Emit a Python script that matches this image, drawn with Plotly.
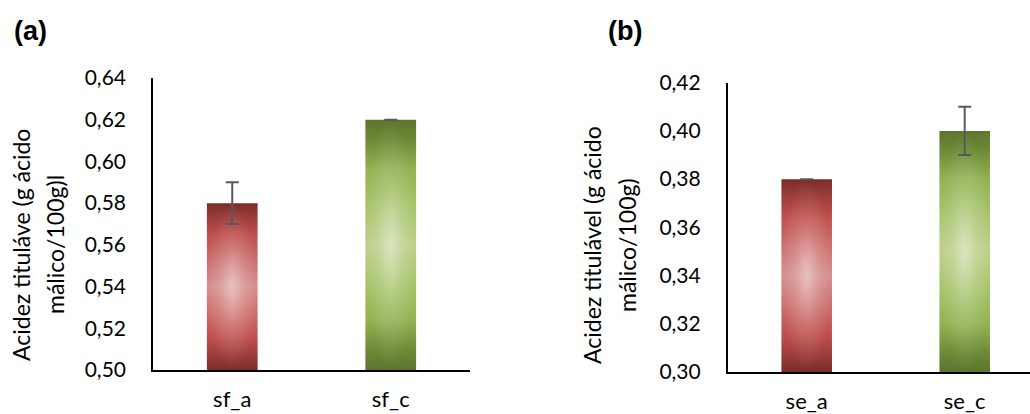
import plotly.graph_objects as go

# ---- data -------------------------------------------------------------
cats_a = ["sf_a", "sf_c"]
vals_a = [0.58, 0.62]
err_a = [0.01, 0.0]
yticks_a = [0.50, 0.52, 0.54, 0.56, 0.58, 0.60, 0.62, 0.64]

cats_b = ["se_a", "se_c"]
vals_b = [0.38, 0.40]
err_b = [0.0, 0.01]
yticks_b = [0.30, 0.32, 0.34, 0.36, 0.38, 0.40, 0.42]

title_a = ["Acidez tituláve (g ácido", "málico/100g)l"]
title_b = ["Acidez titulável (g ácido", "málico/100g)"]
panel_labels = ["(a)", "(b)"]

# ---- style ------------------------------------------------------------
W, H = 1030, 414
FONT = "Lato"
# vertical shading of each bar (dark ends, light middle), bottom -> top
RED_V = [[0.0, "#7A2C2A"], [0.08, "#9A3B38"], [0.2, "#C0514E"], [0.35, "#CC716F"],
         [0.5, "#D58E8C"], [0.65, "#CC716F"], [0.8, "#C0514E"], [0.92, "#9A3B38"],
         [1.0, "#7A2C2A"]]
GREEN_V = [[0.0, "#5E742F"], [0.08, "#6E8A38"], [0.2, "#93B252"], [0.35, "#A8C46C"],
           [0.5, "#BBD08A"], [0.65, "#A8C46C"], [0.8, "#93B252"], [0.92, "#6E8A38"],
           [1.0, "#5E742F"]]
# soft highlight in the centre of each bar
GLOW = [[0.0, "rgba(255,255,255,0.45)"], [0.5, "rgba(255,255,255,0.15)"],
        [1.0, "rgba(255,255,255,0)"]]
BAR_W = 0.32


def px_x(p):
    return p / W


def px_y(p):
    return 1 - p / H


fig = go.Figure()


def add_panel(cats, vals, errs, yticks, xa, ya, xdom, ydom, xrange):
    base = yticks[0]
    for i, v in enumerate(vals):
        xs = [i - BAR_W / 2, i + BAR_W / 2, i + BAR_W / 2, i - BAR_W / 2, i - BAR_W / 2]
        ys = [base, base, v, v, base]
        for grad in (dict(type="vertical", colorscale=RED_V if i == 0 else GREEN_V),
                     dict(type="radial", colorscale=GLOW)):
            fig.add_trace(go.Scatter(
                x=xs, y=ys, mode="none", fill="toself", fillgradient=grad,
                xaxis=xa, yaxis=ya, showlegend=False, hoverinfo="skip",
            ))
    fig.add_trace(go.Scatter(
        x=list(range(len(vals))), y=vals, mode="markers",
        marker=dict(size=1, opacity=0),
        error_y=dict(type="data", array=errs, symmetric=True,
                     color="#595959", thickness=2, width=6.5),
        xaxis=xa, yaxis=ya, showlegend=False,
        text=cats, hovertemplate="%{text}: %{y:.2f}<extra></extra>",
    ))
    xkey = "xaxis" + xa[1:]
    ykey = "yaxis" + ya[1:]
    fig.update_layout({
        xkey: dict(domain=xdom, range=xrange, anchor=ya, automargin=False,
                   tickmode="array", tickvals=list(range(len(cats))), ticktext=cats,
                   showline=True, linecolor="black", linewidth=1.6,
                   showgrid=False, zeroline=False, ticks="",
                   ticklabelstandoff=9,
                   tickfont=dict(family=FONT, size=22, color="black")),
        ykey: dict(domain=ydom, range=[yticks[0], yticks[-1]], anchor=xa, automargin=False,
                   tickmode="array", tickvals=yticks, tickformat=".2f",
                   showline=True, linecolor="black", linewidth=1.6,
                   showgrid=False, zeroline=False, ticks="",
                   ticklabelstandoff=21,
                   tickfont=dict(family=FONT, size=21, color="black")),
    })


add_panel(cats_a, vals_a, err_a, yticks_a, "x", "y",
          [px_x(153), px_x(470)], [px_y(370), px_y(78)], [-0.5, 1.5])
add_panel(cats_b, vals_b, err_b, yticks_b, "x2", "y2",
          [px_x(727.7), 1.0], [px_y(372), px_y(82.7)], [-0.5, -0.5 + 302.3 / 158])

annotations = []
# rotated two-line axis titles
for lines, xs, yc in [(title_a, [21, 55], 245), (title_b, [592, 627], 245)]:
    for text, xc in zip(lines, xs):
        annotations.append(dict(
            text=text, x=px_x(xc), y=px_y(yc), xref="paper", yref="paper",
            xanchor="center", yanchor="middle", textangle=-90, showarrow=False,
            font=dict(family=FONT, size=23, color="black")))
# panel letters
for text, xc in zip(panel_labels, [30, 625]):
    annotations.append(dict(
        text="<b>%s</b>" % text, x=px_x(xc), y=px_y(31), xref="paper", yref="paper",
        xanchor="center", yanchor="middle", showarrow=False,
        font=dict(family="Liberation Sans", size=27, color="black")))

fig.update_layout(
    width=W, height=H, margin=dict(l=0, r=0, t=0, b=0, autoexpand=False),
    paper_bgcolor="white", plot_bgcolor="white",
    separators=",.", annotations=annotations, showlegend=False,
)

fig.write_html("out.html")
